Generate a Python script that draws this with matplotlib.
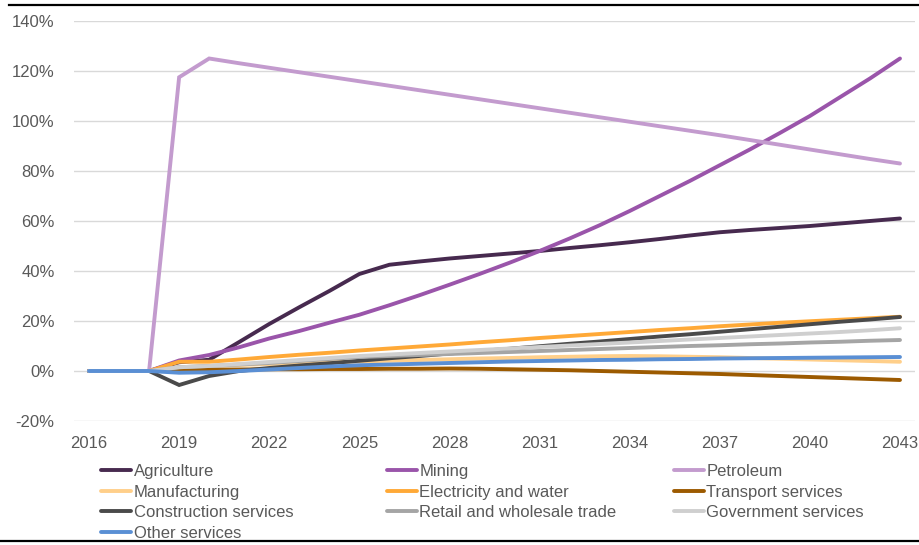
import matplotlib
matplotlib.use("Agg")
import matplotlib.pyplot as plt
from matplotlib.lines import Line2D
from matplotlib.ticker import FuncFormatter

plt.rcParams['font.family'] = ['Liberation Sans', 'DejaVu Sans']

years = list(range(2016, 2044))

agriculture = [0, 0, 0, 3.5, 4.5, 11.6, 18.8, 25.5, 32, 38.8, 42.5, 43.8, 45, 46, 47, 48,
               49.2, 50.3, 51.5, 52.8, 54.2, 55.5, 56.4, 57.2, 58, 59, 60, 61]
mining = [0, 0, 0, 4.2, 6.4, 9.5, 13, 16, 19.3, 22.5, 26.3, 30.3, 34.5, 38.8, 43.3, 48,
          53, 58.3, 64, 70, 76, 82.3, 88.6, 95.2, 102, 109.5, 117, 125]
petroleum = [0, 0, 0, 117.5, 125, 123.1, 121.3, 119.5, 117.7, 115.9, 114.1, 112.3, 110.5, 108.7,
             106.9, 105.1, 103.3, 101.5, 99.7, 97.9, 96.1, 94.3, 92.4, 90.5, 88.6, 86.7, 84.8, 83]
manufacturing = [0, 0, 0, 1.5, 2, 2.4, 2.8, 3.2, 3.5, 3.8, 4.1, 4.4, 4.7, 5, 5.2, 5.5,
                 5.7, 5.9, 6, 5.9, 5.7, 5.5, 5.2, 4.9, 4.6, 4.3, 4, 3.7]
electricity = [0, 0, 0, 3.7, 3.7, 4.6, 5.6, 6.5, 7.3, 8.2, 9, 9.8, 10.6, 11.5, 12.3, 13.2,
               14, 14.8, 15.6, 16.4, 17.1, 17.9, 18.6, 19.3, 19.9, 20.5, 21.1, 21.7]
transport = [0, 0, 0, 0.3, 0.5, 0.6, 0.7, 0.7, 0.8, 0.8, 0.9, 0.9, 1, 0.9, 0.7, 0.5,
             0.3, 0, -0.3, -0.6, -0.9, -1.2, -1.6, -2, -2.4, -2.8, -3.2, -3.6]
construction = [0, 0, 0, -5.6, -2, 0, 1.2, 2.2, 3.1, 4.1, 5.1, 6, 7, 8, 8.9, 9.9,
                10.9, 11.8, 12.8, 13.8, 14.7, 15.7, 16.7, 17.7, 18.7, 19.7, 20.6, 21.6]
retail = [0, 0, 0, 1.5, 2, 2.6, 3.2, 4, 4.8, 5.6, 6, 6.4, 6.8, 7.2, 7.6, 8,
          8.4, 8.8, 9.2, 9.6, 10, 10.3, 10.7, 11, 11.4, 11.7, 12.1, 12.4]
government = [0, 0, 0, 1.5, 2, 2.8, 3.6, 4.4, 5.2, 6, 6.6, 7.2, 7.8, 8.4, 9, 9.6,
              10.2, 10.8, 11.4, 12, 12.6, 13.2, 13.8, 14.4, 15, 15.6, 16.3, 17.1]
other = [0, 0, 0, -0.7, -0.5, 0, 0.6, 1.2, 1.8, 2.3, 2.6, 2.9, 3.2, 3.5, 3.8, 4,
         4.2, 4.4, 4.5, 4.7, 4.8, 5, 5.1, 5.2, 5.3, 5.4, 5.5, 5.6]

series_names = ["Agriculture", "Mining", "Petroleum", "Manufacturing", "Electricity and water",
                "Transport services", "Construction services", "Retail and wholesale trade",
                "Government services", "Other services"]
series_values = [agriculture, mining, petroleum, manufacturing, electricity, transport,
                 construction, retail, government, other]
colors = ["#472A4F", "#9A55AA", "#C39BCE", "#FFCF8A", "#FFA937", "#9C5A00",
          "#4A4A4A", "#A5A5A5", "#CFCFCF", "#5A8FD4"]

xticks = list(range(2016, 2044, 3))
yticks = list(range(-20, 141, 20))

fig = plt.figure(figsize=(9.2, 5.45), dpi=100)
W, H = 920, 545
ax = fig.add_axes([74 / W, (H - 421) / H, (915 - 74) / W, (421 - 21) / H])

lines = []
for name, vals, c in zip(series_names, series_values, colors):
    ln, = ax.plot(years, vals, color=c, lw=2.8, label=name, solid_capstyle='round',
                  solid_joinstyle='miter')
    lines.append(ln)

ax.set_xlim(2015.5, 2043.5)
ax.set_ylim(-20, 140)
ax.set_xticks(xticks)
ax.set_yticks(yticks)
ax.yaxis.set_major_formatter(FuncFormatter(lambda v, p: f"{v:.0f}%"))
ax.grid(axis='y', color='#D9D9D9', lw=1)
ax.set_axisbelow(True)
for s in ax.spines.values():
    s.set_visible(False)
ax.tick_params(axis='both', length=0, labelsize=12, labelcolor='#595959')
ax.tick_params(axis='y', pad=14)
ax.tick_params(axis='x', pad=11)

# legend: three columns in Excel row-major order
col_x = [101, 387, 674]
for ci in range(3):
    idx = list(range(ci, len(lines), 3))
    fig.legend([lines[i] for i in idx], [series_names[i] for i in idx],
               loc='upper left', bbox_to_anchor=(col_x[ci] / W, (H - 464) / H),
               frameon=False, fontsize=12, labelcolor='#595959',
               handlelength=1.8, handletextpad=0.15, borderpad=0, borderaxespad=0,
               labelspacing=0.33)

# top and bottom rules
fig.add_artist(Line2D([9 / W, 1], [(H - 5) / H] * 2, color='black', lw=1.6,
                      transform=fig.transFigure))
fig.add_artist(Line2D([0, 1], [(H - 541) / H] * 2, color='black', lw=1.6,
                      transform=fig.transFigure))

fig.savefig("out.png", dpi=100)
